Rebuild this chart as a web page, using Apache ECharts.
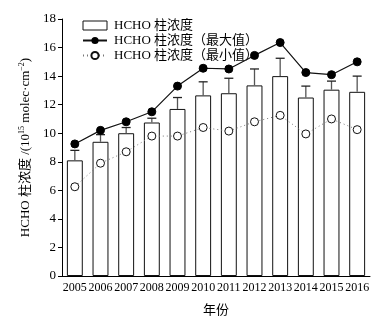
<!DOCTYPE html>
<html>
<head>
<meta charset="utf-8">
<script src="https://cdn.jsdelivr.net/npm/echarts@6/dist/echarts.min.js"></script>
<style>
  html, body { margin: 0; padding: 0; background: #fff; }
  #chart { width: 387px; height: 322px; }
</style>
</head>
<body>
<div id="chart"></div>
<script>
// data
const years = ['2005', '2006', '2007', '2008', '2009', '2010', '2011', '2012', '2013', '2014', '2015', '2016'];
const meanVals = [8.1, 9.4, 10.0, 10.75, 11.7, 12.65, 12.8, 13.35, 14.0, 12.5, 13.05, 12.9];
const errTops = [8.8, 9.9, 10.4, 11.05, 12.5, 13.6, 13.85, 14.5, 15.25, 13.3, 13.65, 14.0];
const maxVals = [9.25, 10.2, 10.8, 11.5, 13.3, 14.55, 14.5, 15.45, 16.35, 14.25, 14.1, 15.0];
const minVals = [6.25, 7.9, 8.7, 9.8, 9.8, 10.4, 10.15, 10.8, 11.25, 9.95, 11.0, 10.25];

const FONT = "'Liberation Serif', 'Noto Sans CJK SC', serif";

const chart = echarts.init(document.getElementById('chart'), null, { renderer: 'canvas' });

chart.setOption({
  animation: false,
  textStyle: { fontFamily: FONT, color: '#000' },
  grid: { left: 62, right: 17, top: 19, bottom: 39 },
  legend: {
    orient: 'vertical',
    left: 77,
    top: 14,
    itemGap: 2,
    itemWidth: 24,
    itemHeight: 9,
    textStyle: { fontFamily: FONT, fontSize: 13, color: '#000', padding: [0, 0, 0, 2] },
    data: [
      { name: 'HCHO 柱浓度', icon: 'rect', itemStyle: { color: '#fff', borderColor: '#111', borderWidth: 1 } },
      { name: 'HCHO 柱浓度（最大值）' },
      { name: 'HCHO 柱浓度（最小值）' }
    ]
  },
  xAxis: {
    type: 'category',
    data: years,
    name: '年份',
    nameLocation: 'middle',
    nameGap: 28,
    nameTextStyle: { fontFamily: FONT, fontSize: 13, color: '#000' },
    axisLine: { lineStyle: { color: '#000', width: 1 } },
    axisTick: { show: false },
    axisLabel: { fontFamily: FONT, fontSize: 12, color: '#000', margin: 6, interval: 0 }
  },
  yAxis: {
    type: 'value',
    min: 0,
    max: 18,
    interval: 2,
    name: '{a|HCHO 柱浓度 /(10}{s|15}{a| molec·cm}{s|−2}{a|)}',
    nameLocation: 'middle',
    nameRotate: 90,
    nameGap: 27,
    nameTextStyle: {
      fontFamily: FONT,
      rich: {
        a: { fontFamily: FONT, fontSize: 13, color: '#000', lineHeight: 16 },
        s: { fontFamily: FONT, fontSize: 8, color: '#000', verticalAlign: 'top', lineHeight: 16 }
      }
    },
    axisLine: { show: true, lineStyle: { color: '#000', width: 1 } },
    axisTick: { show: true, length: 4, lineStyle: { color: '#000' } },
    axisLabel: { fontFamily: FONT, fontSize: 13, color: '#000', margin: 6 },
    splitLine: { show: false }
  },
  series: [
    {
      name: 'HCHO 柱浓度',
      type: 'bar',
      data: meanVals,
      barWidth: '62%',
      itemStyle: { color: '#fff', borderColor: '#111', borderWidth: 1 },
      z: 2
    },
    {
      name: 'errbar',
      type: 'custom',
      data: years.map((y, i) => [i, meanVals[i], errTops[i]]),
      renderItem: (params, api) => {
        const base = api.coord([api.value(0), api.value(1)]);
        const top = api.coord([api.value(0), api.value(2)]);
        const half = 4.5;
        return {
          type: 'group',
          children: [
            { type: 'line', shape: { x1: base[0], y1: base[1], x2: top[0], y2: top[1] },
              style: { stroke: '#555', lineWidth: 1.3 } },
            { type: 'line', shape: { x1: top[0] - half, y1: top[1], x2: top[0] + half, y2: top[1] },
              style: { stroke: '#222', lineWidth: 1.3 } }
          ]
        };
      },
      z: 3
    },
    {
      name: 'HCHO 柱浓度（最大值）',
      type: 'line',
      data: maxVals,
      symbol: 'circle',
      symbolSize: 8,
      lineStyle: { color: '#111', width: 1.2 },
      itemStyle: { color: '#000', borderColor: '#000' },
      z: 4
    },
    {
      name: 'HCHO 柱浓度（最小值）',
      type: 'line',
      data: minVals,
      symbol: 'circle',
      symbolSize: 8,
      lineStyle: { color: '#777', width: 1, type: [1, 3] },
      itemStyle: { color: '#fff', borderColor: '#111', borderWidth: 1 },
      z: 4
    }
  ]
});
</script>
</body>
</html>
